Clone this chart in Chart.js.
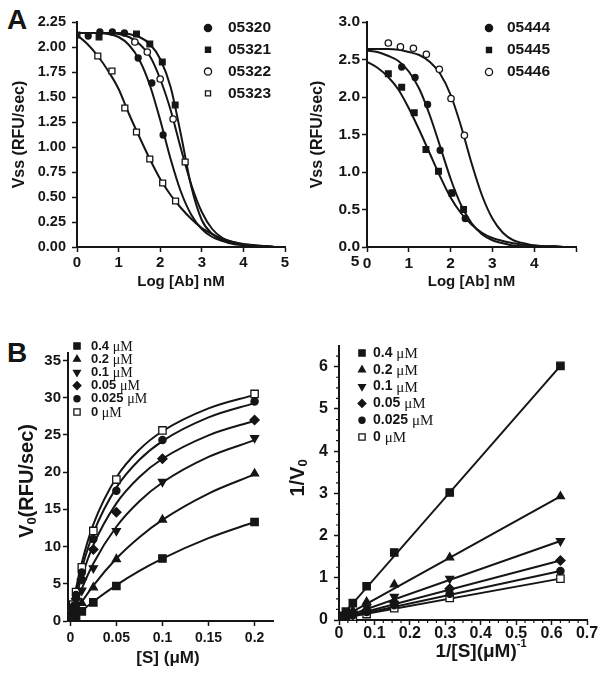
<!DOCTYPE html>
<html>
<head>
<meta charset="utf-8">
<script src="https://cdn.jsdelivr.net/npm/chart.js@4.4.0/dist/chart.umd.min.js"></script>
<style>
body{margin:0;background:#fff;width:602px;height:675px;position:relative;overflow:hidden}
canvas{position:absolute}
.tag{position:absolute;font:bold 28px "Liberation Sans",Arial,sans-serif;color:#151515}
</style>
</head>
<body>
<div class="tag" style="left:7px;top:4px">A</div>
<div class="tag" style="left:7px;top:337px">B</div>
<canvas id="cA1" width="300" height="300" style="left:0;top:0"></canvas>
<canvas id="cA2" width="302" height="300" style="left:300px;top:0"></canvas>
<canvas id="cB1" width="300" height="345" style="left:0;top:330px"></canvas>
<canvas id="cB2" width="322" height="345" style="left:280px;top:330px"></canvas>
<script>
var ink='#151515'
var sans='"Liberation Sans", Arial, sans-serif'
var serif='"Liberation Serif", "Times New Roman", serif'

// ---- A left: Vss vs log[Ab]
var seriesA1=['05320','05321','05322','05323']
var logAb=[0,0.25,0.5,0.75,1,1.25,1.5,1.75,2,2.25,2.5,2.75,3,3.25,3.5,3.75,4,4.25,4.5,4.75,5]
var fit05320=[2.14,2.14,2.14,2.13,2.10,2.02,1.87,1.62,1.27,0.88,0.55,0.32,0.18,0.10,0.06,0.03,0.02,0.01,0.01,0.00,0.00]
var fit05321=[2.14,2.14,2.14,2.14,2.14,2.13,2.10,2.03,1.88,1.60,1.12,0.60,0.27,0.13,0.07,0.04,0.02,0.01,0.01,0.00,0.00]
var fit05322=[2.14,2.14,2.14,2.14,2.13,2.10,2.03,1.91,1.68,1.37,0.98,0.62,0.35,0.18,0.09,0.05,0.02,0.01,0.01,0.00,0.00]
var fit05323=[2.12,2.03,1.91,1.76,1.58,1.33,1.10,0.88,0.68,0.52,0.39,0.28,0.19,0.13,0.08,0.05,0.03,0.02,0.01,0.00,0.00]
var x05320=[0.27,0.55,0.85,1.14,1.47,1.8,2.07]
var y05320=[2.11,2.15,2.15,2.14,1.89,1.64,1.12]
var x05321=[0,0.53,1.43,1.75,2.05,2.36]
var y05321=[2.12,2.10,2.13,2.03,1.85,1.42]
var x05322=[1.39,1.69,2.0,2.31]
var y05322=[2.05,1.95,1.68,1.28]
var x05323=[0.5,0.84,1.15,1.43,1.75,2.06,2.37,2.6]
var y05323=[1.91,1.76,1.39,1.15,0.88,0.64,0.46,0.85]

// ---- A right
var seriesA2=['05444','05445','05446']
var fit05444=[2.62,2.60,2.55,2.48,2.34,2.11,1.76,1.34,0.91,0.56,0.32,0.17,0.09,0.05,0.02,0.01,0.01,0,0,0,0]
var fit05445=[2.47,2.39,2.27,2.10,1.85,1.56,1.25,0.94,0.66,0.45,0.30,0.19,0.12,0.08,0.05,0.03,0.02,0.01,0.01,0.00,0.00]
var fit05446=[2.64,2.64,2.64,2.63,2.60,2.56,2.47,2.31,2.03,1.61,1.12,0.69,0.38,0.19,0.09,0.05,0.02,0.01,0.01,0,0]
var x05444=[0.83,1.15,1.45,1.75,2.03,2.35]
var y05444=[2.40,2.26,1.90,1.29,0.72,0.38]
var x05445=[0.51,0.83,1.13,1.41,1.71,2.03,2.31]
var y05445=[2.31,2.13,1.79,1.30,1.01,0.72,0.50]
var x05446=[0.51,0.80,1.11,1.42,1.73,2.01,2.33]
var y05446=[2.72,2.67,2.65,2.57,2.37,1.98,1.49]

// ---- B left: V0 vs [S], one series per inhibitor conc
var inhib=['0.4','0.2','0.1','0.05','0.025','0']
var sConc=[0.2,0.1,0.05,0.025,0.0125,0.00625,0.003125,0.0015625]
var v0_04=[13.3,8.4,4.7,2.5,1.3,0.7,0.35,0.2]
var v0_02=[19.8,13.6,8.3,4.5,2.4,1.3,0.7,0.35]
var v0_01=[24.6,18.7,12.1,7.1,4.1,2.2,1.2,0.6]
var v0_005=[27.0,21.8,14.6,9.6,5.6,3.0,1.6,0.8]
var v0_0025=[29.5,24.3,17.5,11.0,6.5,3.5,1.9,1.0]
var v0_0=[30.5,25.6,19.0,12.1,7.2,3.9,2.2,1.1]
var sFit=[0,0.00625,0.0125,0.025,0.05,0.075,0.1,0.15,0.2]
var fitV_04=[0,0.70,1.36,2.61,4.83,6.74,8.39,11.13,13.3]
var fitV_02=[0,1.32,2.55,4.75,8.39,11.26,13.59,17.12,19.69]
var fitV_01=[0,2.32,4.34,7.73,12.66,16.08,18.60,22.04,24.29]
var fitV_005=[0,3.26,5.96,10.19,15.80,19.34,21.79,24.94,26.89]
var fitV_0025=[0,3.88,7.03,11.82,17.92,21.65,24.17,27.35,29.27]
var fitV_0=[0,4.37,7.83,12.97,19.28,23.02,25.49,28.56,30.38]

// ---- B right: double reciprocal
var invS=[0.625,0.3125,0.156,0.078,0.039,0.0195,0.0098,0.0049]
var inv_04=[6.02,3.02,1.6,0.8,0.4,0.2,0.1,0.05]
var inv_02=[2.93,1.48,0.84,0.43,0.22,0.12,0.07,0.04]
var inv_01=[1.87,0.98,0.55,0.30,0.16,0.09,0.05,0.04]
var inv_005=[1.41,0.74,0.42,0.23,0.12,0.07,0.05,0.03]
var inv_0025=[1.16,0.62,0.35,0.19,0.11,0.06,0.04,0.03]
var inv_0=[0.98,0.52,0.28,0.14,0.08,0.05,0.04,0.03]
var lineX=[0,0.625]
var line_04=[0.02,6.02]
var line_02=[0.02,2.93]
var line_01=[0.03,1.87]
var line_005=[0.03,1.41]
var line_0025=[0.03,1.16]
var line_0=[0.03,0.98]
var minorInvS=[0.025,0.05,0.075,0.125,0.15,0.175,0.225,0.25,0.275,0.325,0.35,0.375,0.425,0.45,0.475,0.525,0.55,0.575,0.625,0.65,0.675]
var minorInvV=[0.25,0.5,0.75,1.25,1.5,1.75,2.25,2.5,2.75,3.25,3.5,3.75,4.25,4.5,4.75,5.25,5.5,5.75,6.25]

// marker look for each series: [pointStyle, filled, rotation]
var looksA=[['circle',true,0],['rect',true,0],['circle',false,0],['rect',false,0]]
var looksB=[['rect',true,0],['triangle',true,0],['triangle',true,180],['rectRot',true,0],['circle',true,0],['rect',false,0]]

function pts(xs, ys) {
    return xs.map((x, i) => ({x: x, y: ys[i]}))
}

function markers(xs, ys, look, r) {
    return {
        data: pts(xs, ys), showLine: false, order: 0,
        pointStyle: look[0], pointRotation: look[2], pointRadius: r,
        pointBackgroundColor: look[1] ? ink : '#fff',
        pointBorderColor: ink, pointBorderWidth: 1.3
    }
}

function curve(xs, ys, straight) {
    return {
        data: pts(xs, ys), showLine: true, order: 1, pointRadius: 0,
        borderColor: ink, borderWidth: 2, fill: false,
        cubicInterpolationMode: straight ? 'default' : 'monotone', tension: 0
    }
}

function axis(o) {
    return {
        type: 'linear', min: o.min, max: o.max,
        border: {display: true, color: ink, width: 2},
        grid: {display: true, drawOnChartArea: false, drawTicks: true, tickLength: 5, tickWidth: 1.5, tickColor: ink},
        ticks: {color: ink, padding: o.pad, maxRotation: 0, autoSkip: false,
                font: {family: sans, size: o.size, weight: 'bold'}, callback: o.fmt},
        title: o.title || {display: false},
        afterBuildTicks: s => { s.ticks = o.ticks.map(v => ({value: v})) },
        afterFit: s => {
            if (o.w) s.width = o.w
            if (o.h) s.height = o.h
        }
    }
}

// legend drawn inside the plot area
var insideLegend = {
    id: 'insideLegend',
    afterDatasetsDraw(chart, args, o) {
        if (!o.items) return
        const ctx = chart.ctx
        ctx.save()
        o.items.forEach((it, i) => {
            const y = o.y + i * o.gap
            ctx.fillStyle = it.look[1] ? ink : '#fff'
            ctx.strokeStyle = ink
            ctx.lineWidth = 1.3
            Chart.helpers.drawPoint(ctx, {pointStyle: it.look[0], rotation: it.look[2], radius: it.r || o.r, borderWidth: 1.3}, o.mx, y)
            ctx.fillStyle = ink
            ctx.textAlign = 'left'
            ctx.textBaseline = 'middle'
            ctx.font = 'bold ' + o.size + 'px ' + sans
            ctx.fillText(it.text, o.tx, y)
            if (o.unit) {
                const w = ctx.measureText(it.text + ' ').width
                ctx.font = o.usize + 'px ' + serif
                ctx.fillText(o.unit, o.tx + w, y + 1)
            }
        })
        ctx.restore()
    }
}

// axis titles with sub/superscripts and stray labels
var extraText = {
    id: 'extraText',
    afterDraw(chart, args, o) {
        if (!o.items) return
        const ctx = chart.ctx
        o.items.forEach(t => {
            ctx.save()
            ctx.translate(t.x, t.y)
            ctx.rotate((t.rot || 0) * Math.PI / 180)
            ctx.fillStyle = ink
            ctx.textAlign = 'left'
            ctx.textBaseline = 'middle'
            let w = 0
            t.parts.forEach(p => { ctx.font = p.f; w += ctx.measureText(p.s).width })
            let x = -w / 2
            t.parts.forEach(p => {
                ctx.font = p.f
                ctx.fillText(p.s, x, p.dy || 0)
                x += ctx.measureText(p.s).width
            })
            ctx.restore()
        })
    }
}

var minorTicks = {
    id: 'minorTicks',
    afterDraw(chart, args, o) {
        if (!o.x) return
        const ctx = chart.ctx, a = chart.chartArea
        ctx.save()
        ctx.strokeStyle = ink
        ctx.lineWidth = 1.2
        ctx.beginPath()
        o.x.forEach(v => {
            const p = chart.scales.x.getPixelForValue(v)
            ctx.moveTo(p, a.bottom); ctx.lineTo(p, a.bottom + 3)
        })
        o.y.forEach(v => {
            const p = chart.scales.y.getPixelForValue(v)
            ctx.moveTo(a.left, p); ctx.lineTo(a.left - 3, p)
        })
        ctx.stroke()
        ctx.restore()
    }
}

Chart.register(insideLegend, extraText, minorTicks)

function baseOptions(padding, scales, plugins) {
    plugins.legend = {display: false}
    plugins.tooltip = {enabled: false}
    return {responsive: false, animation: false, layout: {padding: padding}, scales: scales, plugins: plugins}
}

function bold(n) { return 'bold ' + n + 'px ' + sans }

// ---------- A left
new Chart(document.getElementById('cA1'), {
    type: 'scatter',
    data: {datasets: [
        markers(x05320, y05320, looksA[0], 3),
        markers(x05321, y05321, looksA[1], 4),
        markers(x05322, y05322, looksA[2], 3.2),
        markers(x05323, y05323, looksA[3], 4.2),
        curve(logAb, fit05320), curve(logAb, fit05321), curve(logAb, fit05322), curve(logAb, fit05323)
    ]},
    options: baseOptions({left: 0, right: 15, top: 22, bottom: 0}, {
        x: axis({min: 0, max: 5, ticks: [0,1,2,3,4,5], size: 15, pad: 2, h: 53, fmt: v => String(v),
                 title: {display: true, text: 'Log [Ab] nM', color: ink, font: {family: sans, size: 15, weight: 'bold'}, padding: {top: 0, bottom: 9}}}),
        y: axis({min: 0, max: 2.25, ticks: [0,0.25,0.5,0.75,1,1.25,1.5,1.75,2,2.25], size: 14.5, pad: 6, w: 77, fmt: v => v.toFixed(2),
                 title: {display: true, text: 'Vss (RFU/sec)', color: ink, font: {family: sans, size: 16, weight: 'bold'}, padding: {top: 10, bottom: 0}}})
    }, {
        insideLegend: {items: seriesA1.map((s, i) => ({text: s, look: looksA[i]})), mx: 208, tx: 228, y: 28, gap: 21.8, r: 3.6, size: 15.5}
    })
})

// ---------- A right
new Chart(document.getElementById('cA2'), {
    type: 'scatter',
    data: {datasets: [
        markers(x05444, y05444, looksA[0], 3),
        markers(x05445, y05445, looksA[1], 4),
        markers(x05446, y05446, looksA[2], 3.2),
        curve(logAb, fit05444), curve(logAb, fit05445), curve(logAb, fit05446)
    ]},
    options: baseOptions({left: 0, right: 26, top: 22, bottom: 0}, {
        x: axis({min: 0, max: 5, ticks: [0,1,2,3,4,5], size: 15.5, pad: 2, h: 53, fmt: v => v == 5 ? '' : String(v),
                 title: {display: true, text: 'Log [Ab] nM', color: ink, font: {family: sans, size: 15, weight: 'bold'}, padding: {top: 0, bottom: 9}}}),
        y: axis({min: 0, max: 3, ticks: [0,0.5,1,1.5,2,2.5,3], size: 15.5, pad: 2, w: 67, fmt: v => v.toFixed(1),
                 title: {display: true, text: 'Vss (RFU/sec)', color: ink, font: {family: sans, size: 16, weight: 'bold'}, padding: {top: 8, bottom: 0}}})
    }, {
        insideLegend: {items: seriesA2.map((s, i) => ({text: s, look: looksA[i]})), mx: 189, tx: 207, y: 28, gap: 22, r: 3.6, size: 15.5},
        extraText: {items: [{x: 55, y: 262, parts: [{s: '5', f: bold(15.5)}]}]}
    })
})

// ---------- B left
var curvesB1=[fitV_04,fitV_02,fitV_01,fitV_005,fitV_0025,fitV_0]
var pointsB1=[v0_04,v0_02,v0_01,v0_005,v0_0025,v0_0]
var radiiB=[5.2,4.6,4.6,4.6,3.6,5.2]
new Chart(document.getElementById('cB1'), {
    type: 'scatter',
    data: {datasets: pointsB1.map((ys, i) => markers(sConc, ys, looksB[i], radiiB[i]))
        .concat(curvesB1.map(ys => curve(sFit, ys)))},
    options: baseOptions({left: 0, right: 27, top: 23, bottom: 0}, {
        x: axis({min: -0.0025, max: 0.22, ticks: [0,0.05,0.1,0.15,0.2], size: 14, pad: 4, h: 54, fmt: v => String(v)}),
        y: axis({min: 0, max: 36, ticks: [0,5,10,15,20,25,30,35], size: 15, pad: 2, w: 68, fmt: v => String(v)})
    }, {
        insideLegend: {items: inhib.map((s, i) => ({text: s, look: looksB[i], r: radiiB[i] * 0.85})), mx: 77, tx: 91, y: 16, gap: 13.2, r: 3.5, size: 13, unit: 'μM', usize: 14},
        extraText: {items: [
            {x: 27, y: 151, rot: -90, parts: [{s: 'V', f: bold(20)}, {s: '0', f: bold(13), dy: 5}, {s: '(RFU/sec)', f: bold(20)}]},
            {x: 168, y: 328, parts: [{s: '[S] (μM)', f: bold(17)}]}
        ]}
    })
})

// ---------- B right
var pointsB2=[inv_04,inv_02,inv_01,inv_005,inv_0025,inv_0]
var linesB2=[line_04,line_02,line_01,line_005,line_0025,line_0]
new Chart(document.getElementById('cB2'), {
    type: 'scatter',
    data: {datasets: pointsB2.map((ys, i) => markers(invS, ys, looksB[i], radiiB[i]))
        .concat(linesB2.map(ys => curve(lineX, ys, true)))},
    options: baseOptions({left: 0, right: 15, top: 13, bottom: 0}, {
        x: axis({min: 0, max: 0.7, ticks: [0,0.1,0.2,0.3,0.4,0.5,0.6,0.7], size: 16, pad: -1, h: 55, fmt: v => String(v)}),
        y: axis({min: 0, max: 6.5, ticks: [0,1,2,3,4,5,6], size: 16, pad: 6, w: 59, fmt: v => String(v)})
    }, {
        insideLegend: {items: inhib.map((s, i) => ({text: s, look: looksB[i], r: radiiB[i] * 0.85})), mx: 82, tx: 93, y: 23, gap: 16.8, r: 3.5, size: 14, unit: 'μM', usize: 15},
        minorTicks: {x: minorInvS, y: minorInvV},
        extraText: {items: [
            {x: 18, y: 148, rot: -90, parts: [{s: '1/V', f: bold(20)}, {s: '0', f: bold(13), dy: 5}]},
            {x: 201, y: 322, parts: [{s: '1/[S](μM)', f: bold(19)}, {s: '-1', f: bold(11), dy: -8}]}
        ]}
    })
})
</script>
</body>
</html>
